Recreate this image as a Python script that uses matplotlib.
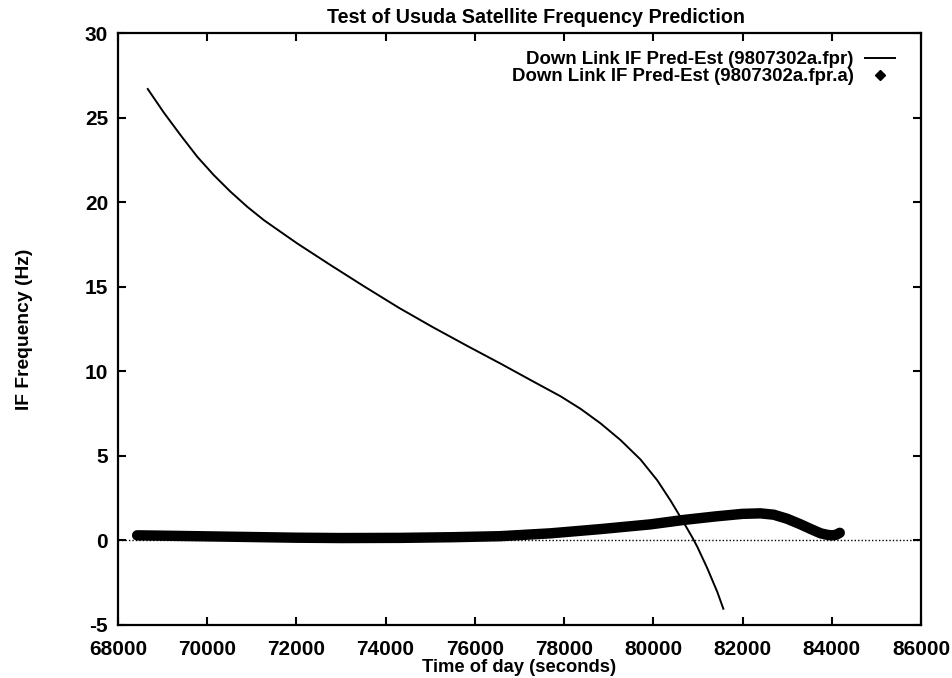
import matplotlib
matplotlib.use("Agg")
import matplotlib.pyplot as plt
from matplotlib.lines import Line2D

plt.rcParams['font.family'] = ['Liberation Sans', 'DejaVu Sans']
plt.rcParams['font.weight'] = 'bold'
plt.rcParams['axes.unicode_minus'] = False

# Predicted-minus-estimated (curve, 9807302a.fpr)
pred_time = [68668, 69027, 69401, 69776, 70148, 70522, 70897, 71269, 71643,
             72018, 72765, 73500, 74300, 75050, 75830, 76600, 77320, 77922,
             78370, 78818, 79267, 79715, 80090, 80388, 80650, 80874, 80987,
             81211, 81435, 81570]
pred_freq = [26.69, 25.3, 23.97, 22.69, 21.60, 20.62, 19.73, 18.94, 18.25,
             17.56, 16.28, 15.05, 13.75, 12.62, 11.5, 10.42, 9.38, 8.52,
             7.78, 6.92, 5.93, 4.78, 3.55, 2.35, 1.2, 0.18, -0.38,
             -1.65, -3.05, -4.04]

# Estimated points (9807302a.fpr.a)
est_time = [68430, 69000, 70000, 71000, 72000, 73000, 74330, 75500, 76570,
            77700, 78820, 79940, 80680, 81400, 82000, 82400, 82700, 83000,
            83300, 83550, 83750, 83900, 84000, 84100, 84180]
est_freq = [0.30, 0.28, 0.24, 0.20, 0.16, 0.14, 0.15, 0.19, 0.25,
            0.42, 0.67, 0.95, 1.21, 1.42, 1.57, 1.60, 1.52, 1.28,
            0.95, 0.65, 0.42, 0.33, 0.30, 0.33, 0.45]

x_ticks = [68000, 70000, 72000, 74000, 76000, 78000, 80000, 82000, 84000, 86000]
y_ticks = [-5, 0, 5, 10, 15, 20, 25, 30]

fig = plt.figure(figsize=(9.52, 6.78), dpi=100)
ax = fig.add_axes([0.1239, 0.0782, 0.8435, 0.8731])

ax.axhline(0, color='black', lw=1.0, ls=(0, (1, 1.5)), zorder=1)
ax.plot(pred_time, pred_freq, color='black', lw=1.4, zorder=3)
ax.plot(est_time, est_freq, color='black', lw=7.5, solid_capstyle='round',
        solid_joinstyle='round', zorder=2)

ax.set_xlim(68000, 86000)
ax.set_ylim(-5, 30)
ax.set_xticks(x_ticks)
ax.set_yticks(y_ticks)
ax.tick_params(direction='in', length=6, width=1.5, top=True, right=True,
               labelsize=15)
ax.tick_params(axis='x', pad=10.5)
ax.tick_params(axis='y', pad=7)
for s in ax.spines.values():
    s.set_linewidth(1.6)

ax.set_title('Test of Usuda Satellite Frequency Prediction', fontsize=14.2,
             fontweight='bold', pad=7, x=0.5205)
ax.set_xlabel('Time of day (seconds)', fontsize=13.2, fontweight='bold', labelpad=0)
ax.set_ylabel('IF Frequency (Hz)', fontsize=13.9, fontweight='bold', labelpad=37)

handles = [Line2D([], [], color='black', lw=1.4),
           Line2D([], [], color='black', ls='none', marker='D', markersize=5)]
labels = ['Down Link IF Pred-Est (9807302a.fpr)',
          'Down Link IF Pred-Est (9807302a.fpr.a)']
ax.legend(handles, labels, loc='upper right', bbox_to_anchor=(0.9772, 0.982),
          frameon=False, markerfirst=False, fontsize=13.4, handlelength=1.6,
          handletextpad=0.64, labelspacing=0.0, borderaxespad=0)

fig.savefig('out.png', dpi=100)
